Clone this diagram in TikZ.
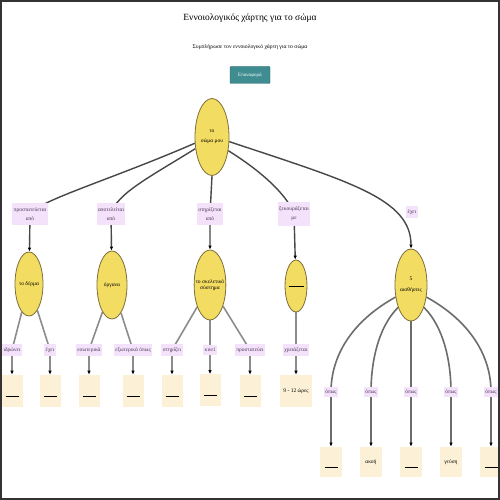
\documentclass[tikz,border=0pt]{standalone}
\usepackage{fontspec}
\setmainfont{Liberation Serif}
\usetikzlibrary{positioning, shapes.geometric, arrows.meta, backgrounds}
\definecolor{concfill}{HTML}{F3DC62}
\definecolor{concdraw}{HTML}{7D6E3A}
\definecolor{leaffill}{HTML}{FCF0D6}
\definecolor{labfill}{HTML}{F4E1FA}
\definecolor{labtext}{HTML}{4A3355}
\definecolor{btnfill}{HTML}{3F8D91}
\definecolor{edgedark}{HTML}{474747}
\definecolor{edgelight}{HTML}{8C8C8C}
\newcommand{\kenoline}{\rule[-4pt]{13pt}{0.8pt}}

\begin{document}
\begin{tikzpicture}[x=1pt, y=1pt,
    concept/.style={draw=concdraw, thick, ellipse, fill=concfill, inner xsep=-3pt, inner ysep=0pt, align=center, font=\fontsize{5.5}{6.5}\selectfont},
    leaf/.style={rectangle, fill=leaffill, minimum width=21pt, minimum height=32pt, inner sep=1pt, text height=4pt, text depth=1pt, font=\fontsize{5.5}{6.5}\selectfont},
    linklabel/.style={rectangle, fill=labfill, text=labtext, inner xsep=1.5pt, inner ysep=3pt, align=center, font=\fontsize{5.5}{9}\selectfont},
    edge/.style={draw=edgedark, line width=1.4pt, -{Latex[length=4pt, width=3.5pt, color=black]}},
    subedge/.style={draw=edgelight, line width=1.6pt, -{Latex[length=4pt, width=3.5pt, color=black]}},
    button/.style={rectangle, fill=btnfill, draw=btnfill!70!black, text=white, rounded corners=1pt, minimum width=40pt, minimum height=17pt, font=\fontsize{5}{6}\selectfont}
]
\useasboundingbox (0,0) rectangle (500,-500);

% --- KOPF ---
\node[font=\fontsize{9.5}{11}\selectfont] (title) at (250,-18) {Εννοιολογικός χάρτης για το σώμα};
\node[font=\fontsize{5.7}{7}\selectfont] (subtitle) at (250,-47) {Συμπλήρωσε τον εννοιολογικό χάρτη για το σώμα};
\node[button] (reset) at (250,-75) {Επαναφορά};

% --- KNOTEN ---
\node[concept, minimum width=34pt, minimum height=77pt] (root) at (212,-137) {το\\[4pt]σώμα μου};

% Ebene 1
\node[concept, minimum width=28pt, minimum height=64pt] (c1) at (29,-284) {το δέρμα};
\node[concept, minimum width=30pt, minimum height=68pt] (c2) at (112,-285) {όργανα};
\node[concept, minimum width=30pt, minimum height=70pt] (c3) at (210,-285) {το σκελετικό\\σύστημα};
\node[concept, minimum width=22pt, minimum height=52pt] (c4) at (296,-286) {\rule{15pt}{0.7pt}};
\node[concept, minimum width=32pt, minimum height=72pt] (c5) at (411,-285) {5\\[4pt]αισθήσεις};

% Beschriftungen Ebene 1
\node[linklabel, inner ysep=5pt] (l1) at (30,-214) {προστατεύεται\\από};
\node[linklabel, inner ysep=5pt] (l2) at (111,-214) {αποτελείται\\από};
\node[linklabel, inner ysep=5pt] (l3) at (210,-214) {στηρίζεται\\από};
\node[linklabel, inner ysep=5pt] (l4) at (294,-214) {ξεκουράζεται\\με};
\node[linklabel] (l5) at (412,-212) {έχει};

% Beschriftungen und Blätter Ebene 2
\node[linklabel] (m11) at (12,-350) {ιδρώνει};
\node[linklabel] (m12) at (50,-350) {έχει};
\node[linklabel] (m21) at (89,-350) {εσωτερικά};
\node[linklabel] (m22) at (133,-350) {εξωτερικά όπως};
\node[linklabel] (m31) at (172,-350) {στηρίζει};
\node[linklabel] (m32) at (210,-350) {κινεί};
\node[linklabel] (m33) at (250,-350) {προστατεύει};
\node[linklabel] (m41) at (296,-350) {χρειάζεται};

\node[leaf, below=19pt of m11] (f11) {\kenoline};
\node[leaf, below=19pt of m12] (f12) {\kenoline};
\node[leaf, below=19pt of m21] (f21) {\kenoline};
\node[leaf, below=19pt of m22] (f22) {\kenoline};
\node[leaf, below=19pt of m31] (f31) {\kenoline};
\node[leaf, below=19pt of m32] (f32) {\kenoline};
\node[leaf, below=19pt of m33] (f33) {\kenoline};
\node[leaf, below=19pt of m41, minimum width=32pt] (f41) {9 - 12 ώρες};

% Ebene 3 unter den Sinnen
\foreach \i/\x in {1/331, 2/371, 3/411, 4/451, 5/491}
    \node[linklabel] (m5\i) at (\x,-392) {όπως};

\node[leaf, below=49pt of m51, minimum width=22pt, minimum height=30pt] (f51) {\kenoline};
\node[leaf, below=49pt of m52, minimum width=22pt, minimum height=30pt] (f52) {ακοή};
\node[leaf, below=49pt of m53, minimum width=22pt, minimum height=30pt] (f53) {\kenoline};
\node[leaf, below=49pt of m54, minimum width=22pt, minimum height=30pt] (f54) {γεύση};
\node[leaf, below=49pt of m55, minimum width=22pt, minimum height=30pt] (f55) {\kenoline};

% --- KANTEN ---
\begin{scope}[on background layer]
\fill[white] (0,0) rectangle (500,-500);
% 1. Von der Wurzel
\draw[edge] (root.200) .. controls (110,-180) and (40,-200) .. (l1.center) -- (c1);
\draw[edge] (root.215) .. controls +(-45,-28) and +(5,20) .. (l2.center) -- (c2);
\draw[edge] (root.south) -- (l3.center) -- (c3);
\draw[edge] (root.320) .. controls +(40,-25) and +(-5,15) .. (l4.center) -- (c4);
\draw[edge] (root.345) .. controls +(120,-40) and +(0,50) .. (c5.north);

% 2. Ebene 2
\draw[subedge] (c1) -- (m11.center) -- (f11);
\draw[subedge] (c1) -- (m12.center) -- (f12);
\draw[subedge] (c2) -- (m21.center) -- (f21);
\draw[subedge] (c2) -- (m22.center) -- (f22);
\draw[subedge] (c3) -- (m31.center) -- (f31);
\draw[subedge] (c3) -- (m32.center) -- (f32);
\draw[subedge] (c3) -- (m33.center) -- (f33);
\draw[subedge] (c4) -- (m41.center) -- (f41);

% 3. Von den Sinnen
\draw[subedge, draw=edgedark!80] (c5.218) .. controls +(-45,-25) and +(0,35) .. (m51.center) -- (f51);
\draw[subedge, draw=edgedark!80] (c5.240) .. controls +(-20,-20) and +(0,30) .. (m52.center) -- (f52);
\draw[subedge, draw=edgedark!80] (c5.south) -- (m53.center) -- (f53);
\draw[subedge, draw=edgedark!80] (c5.300) .. controls +(20,-20) and +(0,30) .. (m54.center) -- (f54);
\draw[subedge, draw=edgedark!80] (c5.322) .. controls +(45,-25) and +(0,35) .. (m55.center) -- (f55);
\end{scope}

% Rahmen
\draw[black!80, line width=2pt] (1,-1) rectangle (499,-499);

\end{tikzpicture}
\end{document}
